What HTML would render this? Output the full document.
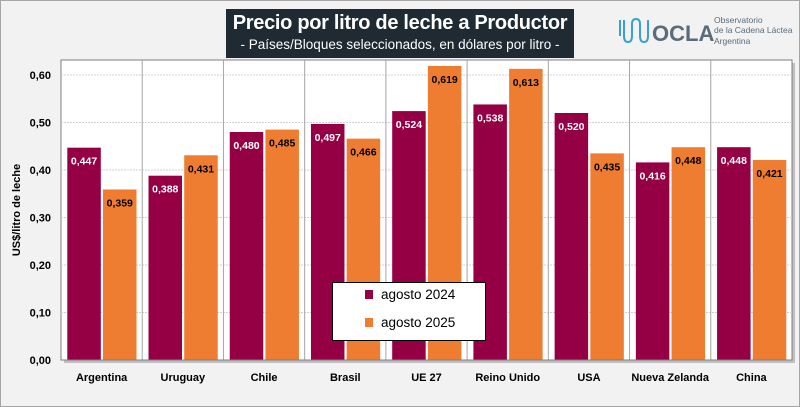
<!DOCTYPE html>
<html><head><meta charset="utf-8"><style>
body{margin:0;width:800px;height:407px;overflow:hidden;background:#f2f2f2;font-family:"Liberation Sans",sans-serif}
#frame{position:absolute;left:0;top:0;width:798px;height:405px;border:1px solid #a6a6a6;background:#f2f2f2}
#titlebox{position:absolute;left:226px;top:9px;width:348px;height:49px;background:#1f2a33;color:#fff;text-align:center}
#t1{font-size:20px;font-weight:bold;margin-top:3px;letter-spacing:-0.3px}
#t2{font-size:13.5px;margin-top:2px}
#logo{position:absolute;left:618px;top:14px;color:#5a6b7a}
</style></head><body>
<div id="frame"></div>
<div id="titlebox">
<div id="t1">Precio por litro de leche a Productor</div>
<div id="t2">- Países/Bloques seleccionados, en dólares por litro -</div>
</div>
<div id="logo">
<svg width="180" height="40" style="position:absolute;left:0;top:0">
<path d="M2 6 V22 M6 6 V22 Q6 28 10 28 Q14 28 14 22 V10 Q14 5 18 5 Q22 5 22 10 V22 Q22 28 26 28 Q30 28 30 22 V6" stroke="#3aa0d0" stroke-width="2" fill="none"/>
<text x="34" y="27" font-size="22" font-weight="bold" fill="#5a6b7a" font-family="Liberation Sans">OCLA</text>
<text x="96" y="9" font-size="8.5" fill="#5a6b7a" font-family="Liberation Sans">Observatorio</text>
<text x="96" y="19" font-size="8.5" fill="#5a6b7a" font-family="Liberation Sans">de la Cadena Láctea</text>
<text x="96" y="30" font-size="8.5" fill="#5a6b7a" font-family="Liberation Sans">Argentina</text>
</svg>
</div>
<svg id="chart" width="800" height="407" style="position:absolute;left:0;top:0"></svg>
<script>
const categories=["Argentina","Uruguay","Chile","Brasil","UE 27","Reino Unido","USA","Nueva Zelanda","China"];
const seriesNames=["agosto 2024","agosto 2025"];
const values2024=[0.447,0.388,0.480,0.497,0.524,0.538,0.520,0.416,0.448];
const values2025=[0.359,0.431,0.485,0.466,0.619,0.613,0.435,0.448,0.421];
const yTicks=[0,0.1,0.2,0.3,0.4,0.5,0.6];
const yTickLabels=["0,00","0,10","0,20","0,30","0,40","0,50","0,60"];

const NS="http://www.w3.org/2000/svg";
const svg=document.getElementById('chart');
const L=61,R=792,T=60,B=360;
const y=v=>B-v*475;
const cw=(R-L)/categories.length;
const x=i=>L+i*cw;
function mk(tag,at,parent){const e=document.createElementNS(NS,tag);for(const k in at)e.setAttribute(k,at[k]);(parent||svg).appendChild(e);return e;}
const fmt=v=>v.toFixed(3).replace('.',',');

let e=mk('rect',{x:L+3,y:T+3,width:R-L,height:B-T,fill:'#bfbfbf'});


e=mk('rect',{x:L,y:T,width:R-L,height:B-T,fill:'#fff',stroke:'#7f7f7f','stroke-width':1});


yTicks.forEach((t,i)=>{
  if(t>0){e=mk('line',{x1:L,x2:R,y1:y(t),y2:y(t),stroke:'#d0d0d0','stroke-dasharray':'2,1'});
  
  }
  e=mk('text',{x:L-10,y:y(t)+4,'text-anchor':'end','font-size':11,'font-weight':'bold',fill:'#000'});
  e.textContent=yTickLabels[i];
  
  
});
for(let i=1;i<categories.length;i++){
  e=mk('line',{x1:x(i),x2:x(i),y1:T,y2:B,stroke:'#a6a6a6'});
  
  
}
categories.forEach((c,i)=>{
  const bw=33.5;
  [[values2024[i],6.3,'#950045','#fff'],[values2025[i],42,'#ee7d31','#000']].forEach((s,j)=>{
    const bx=x(i)+s[1];
    e=mk('rect',{x:bx,y:y(s[0]),width:bw,height:B-y(s[0]),fill:s[2]});
    
    
    e=mk('text',{x:bx+bw/2,y:y(s[0])+17,'text-anchor':'middle','font-size':10.5,'font-weight':'bold',fill:s[3]});
    e.textContent=fmt(s[0]);
    
    
  });
  e=mk('text',{x:x(i)+cw/2,y:381,'text-anchor':'middle','font-size':11,'font-weight':'bold',fill:'#000'});
  e.textContent=c;
  
  
});
mk('line',{x1:L,x2:R,y1:B,y2:B,stroke:'#7f7f7f'});
e=mk('text',{x:20,y:210,'text-anchor':'middle','font-size':11,'font-weight':'bold',fill:'#000',transform:'rotate(-90 20 210)'});
e.textContent='US$/litro de leche';


const lg=mk('g',{});


mk('rect',{x:332.5,y:282.5,width:153,height:58,fill:'#fff',stroke:'#000'},lg);
seriesNames.forEach((n,j)=>{
  const ly=296+j*28;
  e=mk('rect',{x:365,y:ly-6,width:8,height:9,fill:j?'#ee7d31':'#950045'},lg);
  
  
  e=mk('text',{x:381,y:ly+3,'font-size':13.5,fill:'#000'},lg);
  e.textContent=n;
  
  
});
</script>
</body></html>
